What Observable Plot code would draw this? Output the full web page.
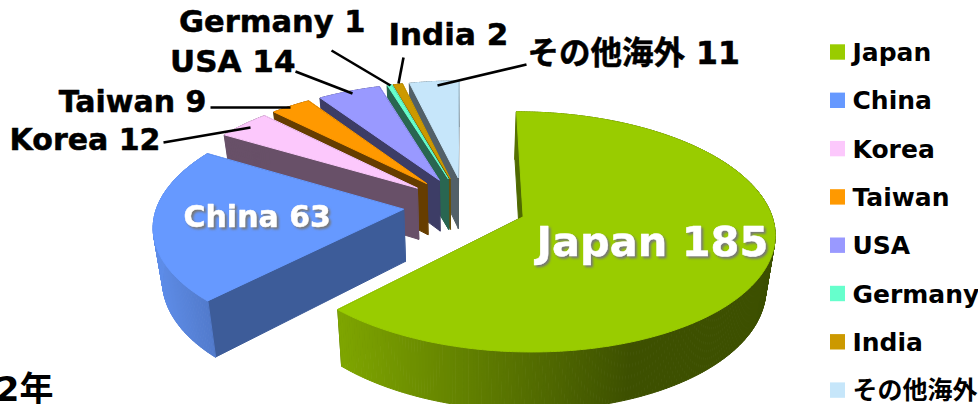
<!DOCTYPE html>
<html>
<head>
<meta charset="utf-8">
<script src="https://cdn.jsdelivr.net/npm/d3@7"></script>
<script src="https://cdn.jsdelivr.net/npm/@observablehq/plot@0.6"></script>
<style>
  html, body { margin: 0; padding: 0; background: #fff; overflow: hidden; }
  svg { display: block; }
</style>
</head>
<body>
<div id="chart"></div>
<script>
// Exports by destination
const names = ["Japan", "China", "Korea", "Taiwan", "USA", "Germany", "India", "その他海外"];
const values = [185, 63, 12, 9, 14, 1, 2, 11];

// Colours of each slice: top face, side wall
const topColors = ["#99cc00", "#6699ff", "#fcc8fc", "#ff9900", "#9999ff", "#66ffcc", "#cc9900", "#c6e6fa"];
const wallColors = ["#4f6a00", "#3d5c99", "#685068", "#663d00", "#3d3d66", "#296651", "#66500a", "#526068"];

// Projection of the tilted, exploded pie onto the page
const view = {cx: 464.5, cy: 205, rx: 246, ry: 115.3, persp: 0.126, explode: 0.252, depth: 52, shrink: 0.97};

function project(u, v, lower) {
  const w = 1 + view.persp * v;
  let x = view.cx + view.rx * u / w;
  let y = view.cy - view.ry * v / w;
  if (lower) {
    x = view.cx + (x - view.cx) * view.shrink;
    y += view.depth / (1 + 0.1 * v);
  }
  return [x, y];
}

const arcs = d3.pie().sort(null).startAngle(0).endAngle(2 * Math.PI)(values);
const outerShade = {
  0: x => d3.interpolateRgb("#7fa600", "#3d5000")(Math.min(1, Math.max(0, (x - 337) / 296))),
  1: x => d3.interpolateRgb("#5f8eea", "#5078c8")(Math.min(1, Math.max(0, (x - 150) / 66)))
};

const rows = [];
let faceId = 0;
function addFace(points, fill) {
  const id = faceId++;
  for (const [x, y] of points) rows.push({id, x, y, fill});
}

// Painted back to front, so the last slices sit over the earlier ones
for (let i = arcs.length - 1; i >= 0; --i) {
  const {startAngle: a0, endAngle: a1} = arcs[i];
  const mid = (a0 + a1) / 2;
  const ox = view.explode * Math.sin(mid);
  const oy = view.explode * Math.cos(mid);
  const rim = t => [ox + Math.sin(t), oy + Math.cos(t)];
  const steps = Math.max(2, Math.ceil((a1 - a0) / 0.012));
  const angles = d3.range(steps + 1).map(k => a0 + (a1 - a0) * k / steps);

  // Two flat walls running from the apex to the rim
  for (const t of [a1, a0]) {
    const [u, v] = rim(t);
    addFace([project(ox, oy), project(u, v), project(u, v, true), project(ox, oy, true)], wallColors[i]);
  }
  // Curved outer wall, shaded strip by strip
  for (let k = 0; k < steps; ++k) {
    const [u0, v0] = rim(angles[k]);
    const [u1, v1] = rim(angles[k + 1]);
    const p0 = project(u0, v0);
    const shade = outerShade[i] ? outerShade[i](p0[0]) : wallColors[i];
    addFace([p0, project(u1, v1), project(u1, v1, true), project(u0, v0, true)], shade);
  }
  // Top face
  addFace([project(ox, oy), ...angles.map(t => project(...rim(t)))], topColors[i]);
}

// Label placement
const labelFont = "'DejaVu Sans', 'Noto Sans CJK JP', sans-serif";
const calloutText = names.map((n, i) => `${n} ${values[i]}`);
const callouts = [
  {i: 5, x: 365, y: 31, anchor: "end", size: 30.5},
  {i: 6, x: 388, y: 44, anchor: "start", size: 31},
  {i: 7, x: 527, y: 63, anchor: "start", size: 31.5},
  {i: 4, x: 295, y: 71, anchor: "end", size: 31},
  {i: 3, x: 206, y: 111, anchor: "end", size: 30},
  {i: 2, x: 160, y: 149, anchor: "end", size: 30}
];
const insideLabels = [
  {i: 0, x: 536, y: 255, size: 41.5},
  {i: 1, x: 183, y: 226, size: 30}
];
const leaders = [
  {x1: 331, y1: 50, x2: 390, y2: 85},
  {x1: 403, y1: 57, x2: 398, y2: 83},
  {x1: 526, y1: 64, x2: 437, y2: 85},
  {x1: 295, y1: 71, x2: 352, y2: 93},
  {x1: 210, y1: 107, x2: 290, y2: 107},
  {x1: 163, y1: 142, x2: 250, y2: 127}
];
const legendRows = names.map((name, i) => ({name, color: topColors[i], mid: 52 + i * 48.3}));

const textMark = (list, anchor, extra = {}) => Plot.text(list, {
  x: "x",
  y: "y",
  text: d => calloutText[d.i],
  textAnchor: anchor,
  lineAnchor: "bottom",
  fontSize: "size",
  fontWeight: "bold",
  fontFamily: labelFont,
  fill: "#000",
  stroke: "#000",
  strokeWidth: 0.5,
  ...extra
});

const chart = Plot.plot({
  width: 978,
  height: 404,
  margin: 0,
  x: {type: "linear", domain: [0, 978], range: [0, 978], axis: null},
  y: {type: "linear", domain: [0, 404], range: [0, 404], axis: null},
  color: {type: "identity"},
  style: {background: "#fff", overflow: "hidden"},
  marks: [
    Plot.line(rows, {
      x: "x", y: "y", z: "id",
      fill: "fill", stroke: "fill", strokeWidth: 1,
      curve: "linear-closed"
    }),
    Plot.link(leaders, {x1: "x1", y1: "y1", x2: "x2", y2: "y2", stroke: "#000", strokeWidth: 2.6}),
    textMark(callouts.filter(d => d.anchor === "end"), "end"),
    textMark(callouts.filter(d => d.anchor === "start"), "start"),
    textMark(insideLabels, "start", {
      fill: "#fff", stroke: "#fff", imageFilter: "drop-shadow(2px 2px 1px #777)"
    }),
    Plot.rect(legendRows, {
      x1: () => 830, x2: () => 845,
      y1: d => d.mid - 7.7, y2: d => d.mid + 7.7,
      fill: "color"
    }),
    Plot.text(legendRows, {
      x: () => 852, y: d => d.mid + 8.5, text: "name",
      textAnchor: "start", lineAnchor: "bottom",
      fontSize: 25, fontWeight: "bold", fontFamily: labelFont, fill: "#000"
    }),
    Plot.text(["2年"], {
      x: () => 53, y: () => 400, text: d => d,
      textAnchor: "end", lineAnchor: "bottom",
      fontSize: 34, fontWeight: "bold", fontFamily: labelFont, fill: "#000"
    })
  ]
});
document.getElementById("chart").append(chart);
</script>
</body>
</html>
